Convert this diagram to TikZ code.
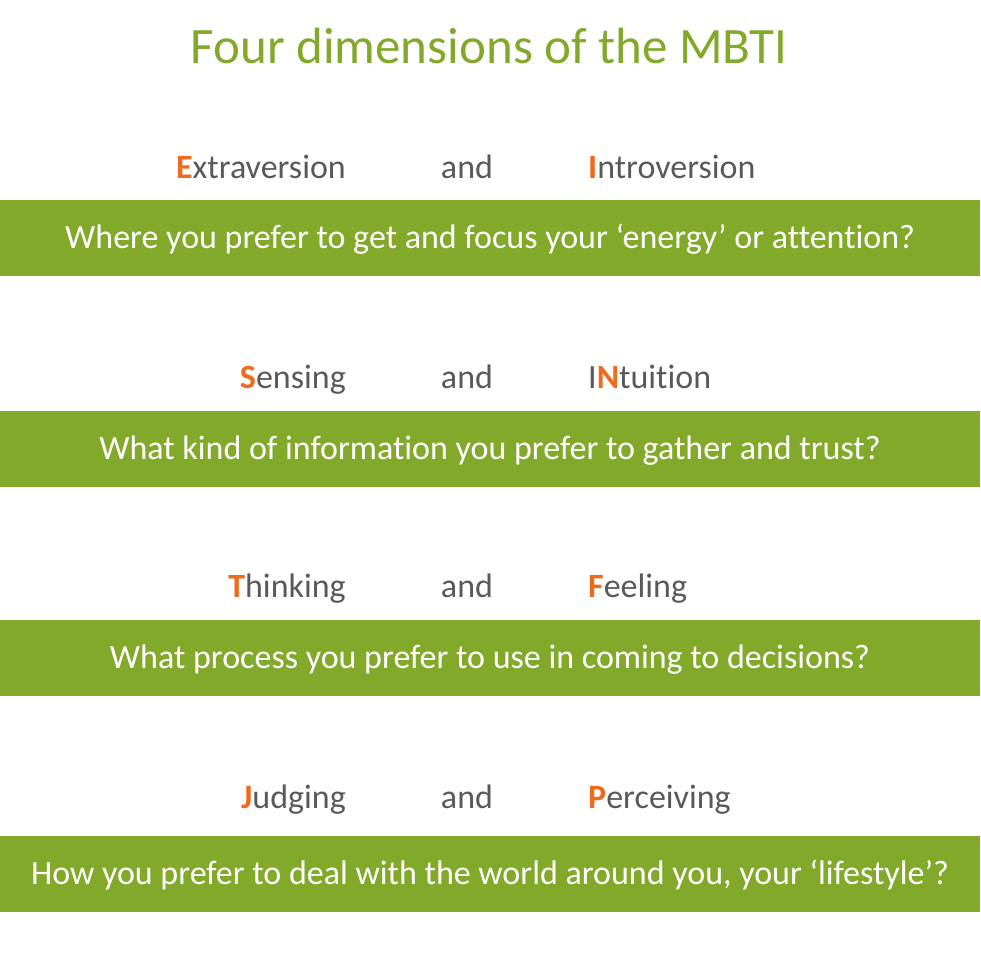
\documentclass[tikz,border=0pt]{standalone}
\usepackage{fontspec}
\setmainfont{Carlito}[Ligatures=NoCommon]
\definecolor{mgreen}{HTML}{82A92A}
\definecolor{morange}{HTML}{EE6A1C}
\definecolor{mgrey}{HTML}{595959}
\begin{document}
\begin{tikzpicture}[x=1pt,y=-1pt,
  bar/.style={fill=mgreen,draw=none},
  q/.style={text=white,font=\fontsize{34}{38}\selectfont,inner sep=0pt,anchor=base},
  lab/.style={text=mgrey,font=\fontsize{34}{38}\selectfont,inner sep=0pt},
  hl/.style={text=morange,font=\bfseries}]
\useasboundingbox (0,0) rectangle (980,980);
\node[text=mgreen,font=\fontsize{51}{56}\selectfont,inner sep=0pt,anchor=base] (title) at (489,63) {Four dimensions of the MBTI};
\foreach \i/\top/\ly/\a/\b/\qq in {
 1/200/178/{{\color{morange}\bfseries E}xtraversion}/{{\color{morange}\bfseries I}ntroversion}/{Where you prefer to get and focus your ‘energy’ or attention?},
 2/411/388/{{\color{morange}\bfseries S}ensing}/{I{\color{morange}\bfseries N}tuition}/{What kind of information you prefer to gather and trust?},
 3/620/597/{{\color{morange}\bfseries T}hinking}/{{\color{morange}\bfseries F}eeling}/{What process you prefer to use in coming to decisions?},
 4/836/808/{{\color{morange}\bfseries J}udging}/{{\color{morange}\bfseries P}erceiving}/{How you prefer to deal with the world around you, your ‘lifestyle’?}}{
  \fill[bar] (0,\top) rectangle (980,\top+76);
  \node[q] (q\i) at (490,\top+48) {\qq};
  \node[lab,anchor=base east] (l\i) at (346,\ly) {\a};
  \node[lab,anchor=base] (and\i) at (467,\ly) {and};
  \node[lab,anchor=base west] (r\i) at (588,\ly) {\b};
}
\end{tikzpicture}
\end{document}
